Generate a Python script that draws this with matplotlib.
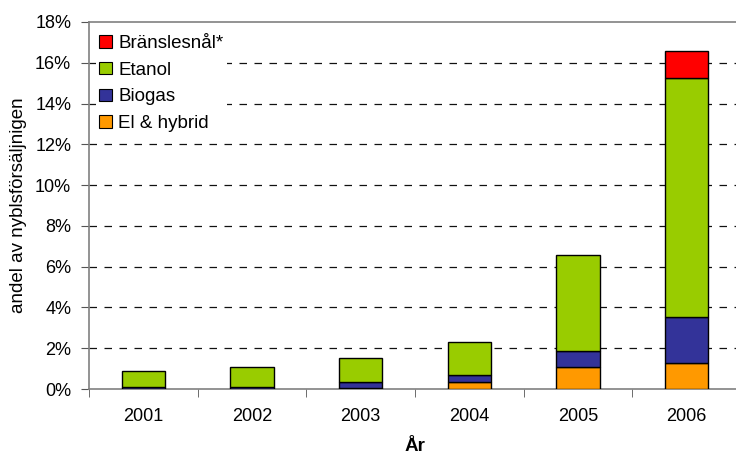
import matplotlib
matplotlib.use("Agg")
import matplotlib.pyplot as plt
import numpy as np
from matplotlib.patches import Patch

plt.rcParams['font.family'] = ['Liberation Sans', 'DejaVu Sans']

years = ["2001", "2002", "2003", "2004", "2005", "2006"]
el_hybrid = [0.02, 0.02, 0.03, 0.36, 1.06, 1.29]
biogas = [0.08, 0.10, 0.30, 0.33, 0.82, 2.22]
etanol = [0.80, 0.97, 1.17, 1.61, 4.67, 11.72]
branslesnal = [0.0, 0.0, 0.0, 0.0, 0.0, 1.35]
yticks = [0, 2, 4, 6, 8, 10, 12, 14, 16, 18]

series = [("El & hybrid", el_hybrid, "#FF9900"),
          ("Biogas", biogas, "#333399"),
          ("Etanol", etanol, "#99CC00"),
          ("Bränslesnål*", branslesnal, "#FF0000")]

FS = 13

fig = plt.figure(figsize=(7.36, 4.57), dpi=100)
ax = fig.add_axes([89.2/736, 1-389/457, 651.6/736, 367/457])

x = np.arange(len(years))
bottom = np.zeros(len(years))
for name, vals, col in series:
    v = np.array(vals)
    mask = v > 0
    ax.bar(x[mask], v[mask], 0.4, bottom=bottom[mask], color=col,
           edgecolor="black", linewidth=1.0, zorder=3)
    bottom += v

ax.set_xlim(-0.5, len(years) - 0.5)
ax.set_ylim(0, 18)
ax.set_yticks(yticks)
ax.set_yticklabels([f"{t}%" for t in yticks], fontsize=FS)
for t in yticks[1:-1]:
    ax.axhline(t, color="#111111", linestyle=(0, (6, 6)), linewidth=0.9, zorder=1)

ax.set_xticks(x)
ax.set_xticklabels(years, fontsize=FS)
ax.set_xticks(np.arange(len(years) + 1) - 0.5, minor=True)
ax.tick_params(axis="x", which="major", length=0, pad=14)
ax.tick_params(axis="x", which="minor", length=6, direction="out", color="#555555")
ax.tick_params(axis="y", length=6, direction="out", color="#555555", pad=7)

for s in ["left", "bottom", "top"]:
    ax.spines[s].set_color("#808080")
    ax.spines[s].set_linewidth(1.2)
ax.spines["right"].set_visible(False)

ax.set_ylabel("andel av nyblsförsäljnigen", fontsize=13.5)
ax.yaxis.set_label_coords(-62/651.6, 0.5)
ax.set_xlabel("År", fontsize=13.5, fontweight="bold", labelpad=9)

handles = [Patch(facecolor=c, edgecolor="black", linewidth=0.8, label=n)
           for n, v, c in series[::-1]]
leg = ax.legend(handles=handles, loc="upper left", bbox_to_anchor=(0.01, 0.975),
                frameon=True, fontsize=13.5, handlelength=0.65, handleheight=0.65,
                handletextpad=0.35, labelspacing=0.52, borderaxespad=0.0,
                borderpad=0.2, fancybox=False)
leg.get_frame().set_edgecolor("none")
leg.get_frame().set_facecolor("white")
leg.get_frame().set_alpha(1)
leg.set_zorder(5)

fig.savefig("out.png", dpi=100)
